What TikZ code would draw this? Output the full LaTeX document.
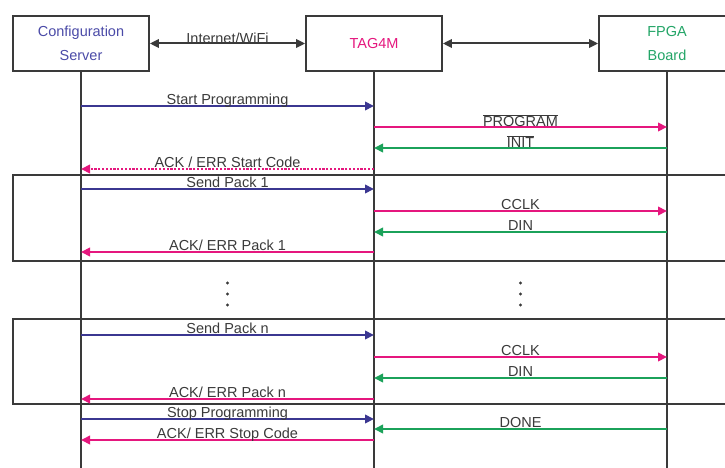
\documentclass[tikz,border=0pt]{standalone}
\usepackage{fontspec}
\setmainfont{Liberation Sans}
\usetikzlibrary{arrows.meta}
\definecolor{ink}{HTML}{3A3A3A}
\definecolor{cblue}{HTML}{3B3791}
\definecolor{cmag}{HTML}{E5177E}
\definecolor{cgreen}{HTML}{1BA25A}
\definecolor{tblue}{HTML}{4B4BA8}
\definecolor{tgreen}{HTML}{23A567}
\begin{document}
\begin{tikzpicture}[x=1pt,y=-1pt,
  font=\fontsize{14.5}{17}\selectfont,
  actor/.style={draw=ink, line width=1.8pt, minimum width=136pt, minimum height=55pt,
    align=center, inner sep=0pt, fill=white, font=\fontsize{14.5}{24}\selectfont},
  life/.style={draw=ink, line width=1.6pt},
  framebox/.style={draw=ink, line width=1.8pt},
  msg/.style={line width=2pt, -{Triangle[length=9pt,width=8.5pt]}},
  both/.style={draw=ink, line width=2pt, {Triangle[length=9pt,width=8.5pt]}-{Triangle[length=9pt,width=8.5pt]}},
  lbl/.style={anchor=base, text=ink, inner sep=0pt, yshift=1.2pt},
  dot/.style={fill=ink}]
\useasboundingbox (0,0) rectangle (725,468);
\clip (0,0) rectangle (725,468);
% frames
\draw[framebox] (760,175) -- (13,175) -- (13,261) -- (760,261);
\draw[framebox] (760,319) -- (13,319) -- (13,404) -- (760,404);
% actors
\node[actor, text=tblue] (cs) at (81,43.5) {Configuration\\Server};
\node[actor, text=cmag] (tg) at (374,43.5) {TAG4M};
\node[actor, text=tgreen] (fp) at (667,43.5) {FPGA\\Board};
\coordinate (csE) at (81,470);
\coordinate (tgE) at (374,470);
\coordinate (fpE) at (667,470);
\draw[life] (cs) -- (csE);
\draw[life] (tg) -- (tgE);
\draw[life] (fp) -- (fpE);
% top links
\draw[both] (cs.east) -- node[lbl, yshift=-1pt] (net) {Internet/WiFi} (tg.west);
\draw[both] (tg.east) -- (fp.west);
% messages
\draw[msg, cblue] (cs |- 0,106) -- node[lbl] (m1) {Start Programming} (tg |- 0,106);
\draw[msg, cmag] (tg |- 0,127) -- node[lbl, yshift=-1pt] (m2) {$\overline{\mbox{PROGRAM}}$} (fp |- 0,127);
\draw[msg, cgreen] (fp |- 0,148) -- node[lbl, yshift=-1pt] (m3) {$\overline{\mbox{INIT}}$} (tg |- 0,148);
\draw[msg, cmag, dash pattern=on 2.2pt off 1.6pt] (tg |- 0,169) -- node[lbl] (m4) {ACK / ERR Start Code} (cs |- 0,169);
\draw[msg, cblue] (cs |- 0,189) -- node[lbl] (m5) {Send Pack 1} (tg |- 0,189);
\draw[msg, cmag] (tg |- 0,211) -- node[lbl] (m6) {CCLK} (fp |- 0,211);
\draw[msg, cgreen] (fp |- 0,232) -- node[lbl] (m7) {DIN} (tg |- 0,232);
\draw[msg, cmag] (tg |- 0,252) -- node[lbl] (m8) {ACK/ ERR Pack 1} (cs |- 0,252);
% ellipsis
\foreach \yy in {283,294,305} {
  \fill[dot] (227.5,\yy) circle (1.6pt);
  \fill[dot] (520.5,\yy) circle (1.6pt);
}
\draw[msg, cblue] (cs |- 0,335) -- node[lbl] (m9) {Send Pack n} (tg |- 0,335);
\draw[msg, cmag] (tg |- 0,357) -- node[lbl] (m10) {CCLK} (fp |- 0,357);
\draw[msg, cgreen] (fp |- 0,378) -- node[lbl] (m11) {DIN} (tg |- 0,378);
\draw[msg, cmag] (tg |- 0,399) -- node[lbl] (m12) {ACK/ ERR Pack n} (cs |- 0,399);
\draw[msg, cblue] (cs |- 0,419) -- node[lbl] (m13) {Stop Programming} (tg |- 0,419);
\draw[msg, cgreen] (fp |- 0,429) -- node[lbl] (m14) {DONE} (tg |- 0,429);
\draw[msg, cmag] (tg |- 0,440) -- node[lbl] (m15) {ACK/ ERR Stop Code} (cs |- 0,440);
\end{tikzpicture}
\end{document}
